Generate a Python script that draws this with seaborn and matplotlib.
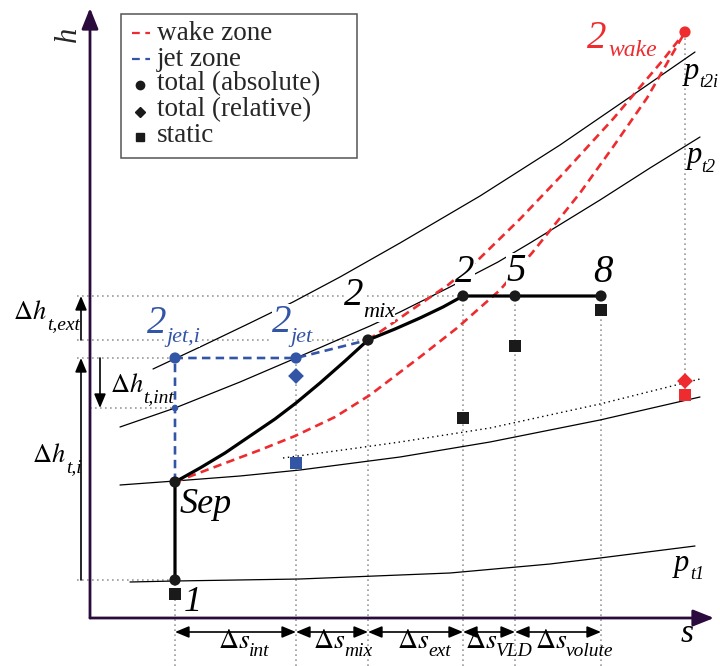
import matplotlib
matplotlib.use("Agg")
import matplotlib.pyplot as plt
import seaborn as sns
import pandas as pd
from matplotlib.patches import Rectangle

sns.set_theme(style="white")
plt.rcParams["font.family"] = ["Liberation Serif", "DejaVu Serif"]
plt.rcParams["mathtext.fontset"] = "stix"

RED = "#ee2b2e"
BLUE = "#3355a6"
AXC = "#2b0a3d"
GREY = "#9a9a9a"

# state points: s measured right of the h axis, h above the s axis
state_s = [85, 85, 85, 206, 278, 373, 425, 511, 595]
state_h = [38, 136, 260, 260, 278, 322, 322, 322, 586]

# total (absolute) markers
abs_s = [85, 85, 278, 373, 425, 511, 85, 206, 595]
abs_h = [38, 136, 278, 322, 322, 322, 260, 260, 586]
abs_zone = ["mean"] * 6 + ["jet", "jet", "wake"]
# total (relative)
rel_s = [206, 595]
rel_h = [242, 237]
rel_zone = ["jet", "wake"]
# static
stat_s = [85, 373, 425, 511, 206, 595]
stat_h = [24, 200, 272, 308, 155, 223]
stat_zone = ["mean"] * 4 + ["jet", "wake"]
# small jet point on p_t2 line
jint_s = [85]
jint_h = [210]

# mean (real) path 1 -> Sep -> 2mix -> 2 -> 5 -> 8
real_s = [85, 85, 110, 135, 160, 185, 206, 230, 255, 278, 305, 330, 353, 373, 425, 511]
real_h = [38, 136, 150, 165, 182, 199, 215, 235, 257, 278, 289, 300, 311, 322, 322, 322]
# jet path
jet_s = [85, 85, 206, 278]
jet_h = [136, 260, 260, 278]
# wake paths
wake1_s = [85, 130, 170, 205, 245, 280, 330, 367, 410, 442, 490, 523, 557, 595]
wake1_h = [136, 153, 168, 182, 201, 223, 261, 290, 328, 365, 425, 471, 520, 586]
wake2_s = [278, 300, 320, 358, 388, 430, 470, 523, 573, 595]
wake2_h = [278, 293, 307, 333, 358, 399, 441, 499, 558, 586]

# isobars
pt2i_s = [63, 110, 160, 203, 250, 310, 390, 470, 540, 605]
pt2i_h = [249, 271, 295, 316, 341, 375, 422, 473, 521, 566]
pt2_s = [30, 85, 150, 206, 280, 310, 358, 408, 440, 510, 560, 610]
pt2_h = [191, 210, 236, 260, 292, 306, 330, 356, 375, 418, 450, 481]
psep_s = [30, 85, 150, 210, 310, 400, 510, 610]
psep_h = [133, 137, 142, 148, 161, 176, 198, 221]
prel_s = [193, 260, 310, 400, 510, 610]
prel_h = [160, 169, 176, 190, 214, 239]
pt1_s = [40, 85, 210, 360, 460, 510, 605]
pt1_h = [36, 37, 39, 45, 54, 60, 72]

# guide lines
vguide_s = [85, 206, 278, 373, 425, 511]
vguide_top = [38, 260, 278, 322, 322, 322]
hguide_h = [322, 278, 260, 210, 38]
hguide_left = [-13, -13, -13, 0, -13]
hguide_right = [373, 278, 85, 85, 85]
bottom = -48

fig = plt.figure(figsize=(7.2, 6.66), dpi=100)
ax = fig.add_axes([0, 0, 1, 1])
ax.set_xlim(-90, 630)
ax.set_ylim(-48, 618)
ax.axis("off")

dot = (0, (1, 2))
ax.vlines(vguide_s, bottom, vguide_top, colors=GREY, linestyles=dot, lw=1.2, zorder=1)
ax.vlines([rel_s[1]], stat_h[-1], state_h[-1], colors=GREY, linestyles=dot, lw=1.2, zorder=1)
ax.hlines(hguide_h, hguide_left, hguide_right, colors=GREY, linestyles=dot, lw=1.2, zorder=1)

thin = dict(color="black", lw=0.9, sort=False, estimator=None, zorder=2)
sns.lineplot(x=pt2i_s, y=pt2i_h, ax=ax, **thin)
sns.lineplot(x=pt2_s, y=pt2_h, ax=ax, **thin)
sns.lineplot(x=psep_s, y=psep_h, ax=ax, **thin)
sns.lineplot(x=pt1_s, y=pt1_h, ax=ax, **thin)
sns.lineplot(x=prel_s, y=prel_h, ax=ax, color="black", lw=1.0, sort=False,
             estimator=None, zorder=2, linestyle=(0, (1, 2.5)))

sns.lineplot(x=wake1_s, y=wake1_h, ax=ax, color=RED, lw=1.9, sort=False,
             estimator=None, zorder=3, linestyle=(0, (3.2, 2)))
sns.lineplot(x=wake2_s, y=wake2_h, ax=ax, color=RED, lw=1.9, sort=False,
             estimator=None, zorder=3, linestyle=(0, (3.2, 2)))
sns.lineplot(x=jet_s, y=jet_h, ax=ax, color=BLUE, lw=1.9, sort=False,
             estimator=None, zorder=3, linestyle=(0, (3.2, 2)))
sns.lineplot(x=real_s, y=real_h, ax=ax, color="black", lw=2.3, sort=False,
             estimator=None, zorder=4)

pts = pd.DataFrame({
    "s": abs_s + rel_s + stat_s,
    "h": abs_h + rel_h + stat_h,
    "zone": abs_zone + rel_zone + stat_zone,
    "kind": ["total (absolute)"] * len(abs_s) + ["total (relative)"] * len(rel_s)
            + ["static"] * len(stat_s),
})
pal = {"mean": "#1a1a1a", "jet": BLUE, "wake": RED}
mk = {"total (absolute)": "o", "total (relative)": "D", "static": "s"}
sns.scatterplot(data=pts, x="s", y="h", hue="zone", style="kind", palette=pal,
                markers=mk, s=65, edgecolor="none", legend=False, ax=ax, zorder=8)
sns.scatterplot(x=jint_s, y=jint_h, color=BLUE, s=22, edgecolor="none", ax=ax, zorder=8)

# axes arrows
arr = dict(arrowstyle="-|>,head_length=0.7,head_width=0.28", color=AXC, lw=2,
           mutation_scale=18, shrinkA=0, shrinkB=0)
ax.annotate("", xy=(0, 610), xytext=(0, 0), arrowprops=arr, zorder=9)
ax.annotate("", xy=(624, 0), xytext=(0, 0), arrowprops=arr, zorder=9)


def P(x, y):
    return x - 90, 618 - y


def put(x, y, txt, size, color="black", italic=True, bg=False, **kw):
    ax.text(*P(x, y), txt, fontsize=size, color=color,
            style="italic" if italic else "normal", ha="left", va="baseline",
            zorder=7, bbox=dict(fc="white", ec="none", pad=0) if bg else None, **kw)


ax.text(*P(68, 34), "h", fontsize=22, style="italic", rotation=90, ha="center", va="center")
put(681, 642, "s", 24)

# state labels
put(147, 333, "2", 28, BLUE)
put(166, 342, "jet,i", 16, BLUE, bg=True)
put(272, 332, "2", 28, BLUE, bg=True)
put(290, 342, "jet", 16, BLUE, bg=True)
put(344, 305, "2", 28, bg=True)
put(363, 317, "mix", 16, bg=True)
put(455, 282, "2", 28, bg=True)
put(506, 281, "5", 28, bg=True)
put(593, 282, "8", 28)
put(180, 513, "Sep", 26)
put(184, 611, "1", 26)
put(587, 48, "2", 28, RED)
put(608, 56, "wake", 17, RED)
put(684, 79, "p", 22)
put(699, 87, "t2i", 13)
put(687, 163, "p", 22)
put(701, 172, "t2", 13)
put(674, 571, "p", 22)
put(690, 579, "t1", 13)

# enthalpy differences
harr = dict(arrowstyle="-|>,head_length=0.6,head_width=0.25", color="black", lw=1.2,
            mutation_scale=14, shrinkA=0, shrinkB=0)
ax.annotate("", xy=(-9, state_h[5]), xytext=(-9, state_h[4]), arrowprops=harr)
ax.annotate("", xy=(10, jint_h[0]), xytext=(10, state_h[2]), arrowprops=harr)
ax.annotate("", xy=(-9, state_h[2]), xytext=(-9, state_h[0]), arrowprops=harr)
put(13, 319, r"$\Delta h$", 19, italic=False)
put(47, 329, "t,ext", 14)
put(110, 392, r"$\Delta h$", 19, italic=False)
put(143, 402, "t,int", 14)
put(32, 462, r"$\Delta h$", 19, italic=False)
put(66, 472, "t,i", 14)

# entropy differences
sarr = dict(arrowstyle="<|-|>,head_length=0.6,head_width=0.25", color="black", lw=1.2,
            mutation_scale=14, shrinkA=0, shrinkB=0)
sb = [85, 206, 278, 373, 425, 511]
for a, b in zip(sb[:-1], sb[1:]):
    ax.annotate("", xy=(b, -14), xytext=(a, -14), arrowprops=sarr)
ds_x = [218, 313, 397, 465, 535]
ds_sub = ["int", "mix", "ext", "VLD", "volute"]
for x, sub in zip(ds_x, ds_sub):
    put(x, 648, r"$\Delta s$", 20, italic=False)
    put(x + 31, 656, sub, 14)

# legend
ax.add_patch(Rectangle(P(121, 158), 236, 144, fc="white", ec="#555555", lw=1.1, zorder=6))
ax.plot([P(132, 0)[0], P(150, 0)[0]], [P(0, 33)[1]] * 2, color=RED, lw=1.6,
        linestyle=(0, (3.5, 2.5)), zorder=7)
ax.plot([P(132, 0)[0], P(150, 0)[0]], [P(0, 59)[1]] * 2, color=BLUE, lw=1.6,
        linestyle=(0, (3.5, 2.5)), zorder=7)
ax.plot(*P(140, 85), "o", color="#1a1a1a", ms=6, zorder=7)
ax.plot(*P(140, 112), "D", color="#1a1a1a", ms=5.5, zorder=7)
ax.plot(*P(140, 137), "s", color="#1a1a1a", ms=5.5, zorder=7)
for y, t in zip([33, 59, 84, 110, 135],
                ["wake zone", "jet zone", "total (absolute)", "total (relative)", "static"]):
    ax.text(*P(157, y), t, fontsize=19.5, va="center", ha="left", zorder=7)

fig.savefig("out.png", dpi=100)
